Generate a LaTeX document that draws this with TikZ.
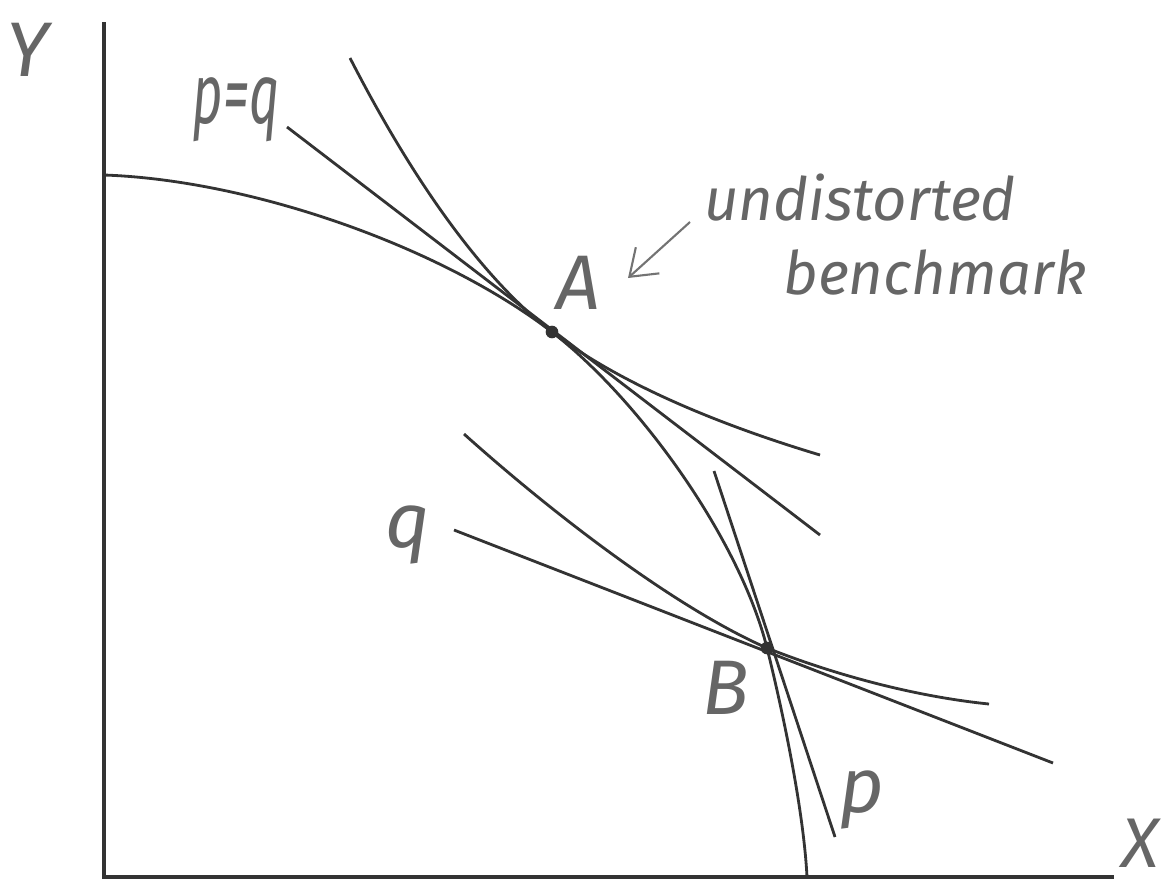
\documentclass[tikz,border=0pt]{standalone}
\usepackage{fontspec}
\setmainfont{Fira Sans}
\usetikzlibrary{arrows.meta}
\begin{document}
\begin{tikzpicture}[x=0.01cm,y=-0.01cm,
  curve/.style={line width=0.8pt, draw=black!80},
  axis/.style={line width=1.1pt, draw=black!80},
  hand/.style={text=black!60, font=\fontsize{17}{19}\selectfont\itshape, inner sep=0pt},
  letter/.style={text=black!60, font=\fontsize{22}{24}\selectfont\itshape, inner sep=0pt},
  dot/.style={circle, fill=black!80, inner sep=0pt, minimum size=3.6pt},
  pointer/.style={draw=black!55, line width=0.6pt, -{Straight Barb[length=7pt,width=10pt]}}
]
\useasboundingbox (0,0) rectangle (1174,881);
% axes
\coordinate (Ytop) at (104,22);
\coordinate (O) at (104,877);
\coordinate (Xend) at (1114,877);
\draw[axis] (Ytop) -- (O) -- (Xend);
\node[letter] (ylab) at (28,50) {Y};
\node[letter, font=\fontsize{20}{22}\selectfont\itshape] (xlab) at (1140,843) {X};
% points
\node[dot] (A) at (552,332) {};
\node[dot] (B) at (767,648) {};
% production possibility frontier
\coordinate (ppfS) at (104,175);
\coordinate (ppfE) at (807,877);
\draw[curve] (ppfS) .. controls (250,180) and (440,246) .. (A.center)
  .. controls (640,400) and (740,540) .. (B.center)
  .. controls (777,688) and (803,800) .. (ppfE);
% indifference curve through A
\coordinate (ic1S) at (350,58);
\coordinate (ic1E) at (820,455);
\draw[curve] (ic1S) .. controls (410,175) and (480,277) .. (A.center)
  .. controls (620,384) and (720,425) .. (ic1E);
% price line p=q
\coordinate (pqS) at (287,127);
\coordinate (pqE) at (820,535);
\draw[curve] (pqS) -- (pqE);
\node[letter] (pqlab) at (236,110) {\scalebox{0.68}[1.1]{p=q}};
% indifference curve through B
\coordinate (ic2S) at (464,434);
\coordinate (ic2E) at (989,704);
\draw[curve] (ic2S) .. controls (560,520) and (680,610) .. (B.center)
  .. controls (840,677) and (920,697) .. (ic2E);
% line q
\coordinate (qS) at (454,530);
\coordinate (qE) at (1053,763);
\draw[curve] (qS) -- (qE);
\node[letter] (qlab) at (408,535) {q};
% line p
\coordinate (pS) at (714,471);
\coordinate (pE) at (835,837);
\draw[curve] (pS) -- (pE);
\node[letter] (plab) at (862,800) {p};
% labels
\node[letter] (Alab) at (578,283) {A};
\node[letter] (Blab) at (726,688) {B};
\node[hand] (t1) at (860,198) {undistorted};
\node[hand] (t2) at (935,272) {benchmark};
\coordinate (arrT) at (690,222);
\coordinate (arrH) at (628,278);
\draw[pointer] (arrT) -- (arrH);
\end{tikzpicture}
\end{document}
